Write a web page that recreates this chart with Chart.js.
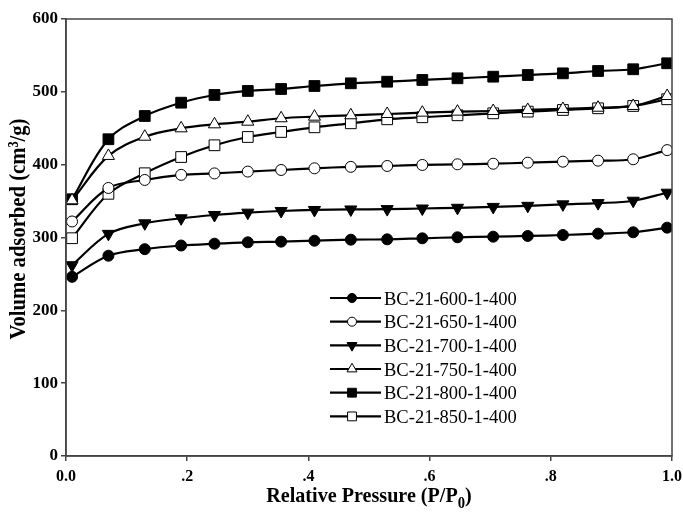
<!DOCTYPE html>
<html>
<head>
<meta charset="utf-8">
<script src="https://cdn.jsdelivr.net/npm/chart.js@4.4.1/dist/chart.umd.min.js"></script>
<style>
html,body{margin:0;padding:0;background:#fff;}
#wrap{width:683px;height:512px;position:relative;}
</style>
</head>
<body>
<div id="wrap"><canvas id="c" width="683" height="512"></canvas></div>
<script>
const pressure = [0.01, 0.07, 0.13, 0.19, 0.245, 0.30, 0.355, 0.41, 0.47, 0.53, 0.588, 0.646, 0.705, 0.762, 0.82, 0.878, 0.936, 0.992];
const bc600 = [246, 275, 284, 289, 291.5, 293.4, 294.3, 295.6, 297, 297.5, 298.9, 300.3, 301.1, 302.1, 303.4, 305.3, 307.2, 313.5];
const bc650 = [322, 368, 379, 386, 388, 390.5, 392.7, 395, 397, 398.2, 399.6, 400.5, 401.3, 402.7, 404.1, 405.5, 407.4, 420];
const bc700 = [262, 305, 319.5, 326.4, 330.9, 334.1, 336.4, 337.8, 338.5, 339, 339.8, 340.8, 342, 343.5, 345.5, 347.2, 350.5, 361.5];
const bc750 = [351, 412, 438.4, 449.9, 455.4, 459, 463.7, 465.9, 467.8, 469.6, 471.4, 472.8, 473.7, 475.1, 476.5, 478.2, 480.6, 494.3];
const bc800 = [352.5, 434.9, 466.8, 485.1, 495.7, 501.2, 503.9, 508, 511.7, 513.9, 516.3, 518.6, 520.8, 523.1, 525.4, 528.6, 531, 539.2];
const bc850 = [299, 360, 388.2, 410.5, 426.6, 438, 444.9, 451.3, 456.8, 462.3, 465.1, 467.8, 470.5, 472.8, 475.1, 477.4, 480.6, 489.8];
const seriesNames = ['BC-21-600-1-400','BC-21-650-1-400','BC-21-700-1-400','BC-21-750-1-400','BC-21-800-1-400','BC-21-850-1-400'];
const xTickLabels = ['0.0', '.2', '.4', '.6', '.8', '1.0'];
const yTickValues = [0, 100, 200, 300, 400, 500, 600];

const seriesValues = [bc600, bc650, bc700, bc750, bc800, bc850];
const styles = [
  {pointStyle:'circle', radius:5.5, rotation:0, fill:'#000'},
  {pointStyle:'circle', radius:5.5, rotation:0, fill:'#fff'},
  {pointStyle:'triangle', radius:7, rotation:180, fill:'#000'},
  {pointStyle:'triangle', radius:7, rotation:0, fill:'#fff'},
  {pointStyle:'rect', radius:7.6, rotation:0, fill:'#000'},
  {pointStyle:'rect', radius:7.6, rotation:0, fill:'#fff'}
];
const SERIF = '"Liberation Serif", "Times New Roman", serif';

const datasets = seriesValues.map((vals, i) => ({
  label: seriesNames[i],
  data: vals.map((v, j) => ({x: pressure[j], y: v})),
  borderColor: '#000',
  borderWidth: 2.2,
  tension: 0.35,
  pointStyle: styles[i].pointStyle,
  pointRadius: styles[i].radius,
  pointRotation: styles[i].rotation,
  pointBackgroundColor: styles[i].fill,
  pointBorderColor: '#000',
  pointBorderWidth: 1,
  fill: false
}));

function scaledText(ctx, text, x, y, sx) {
  ctx.save();
  ctx.translate(x, y);
  ctx.scale(sx, 1);
  ctx.fillText(text, 0, 0);
  ctx.restore();
}

const decor = {
  id: 'decor',
  afterDraw(chart) {
    const ctx = chart.ctx;
    const a = chart.chartArea;
    ctx.save();
    ctx.strokeStyle = '#444';
    ctx.lineWidth = 1.5;
    ctx.strokeRect(a.left, a.top, a.right - a.left, a.bottom - a.top);
    ctx.fillStyle = '#000';
    // y title
    ctx.save();
    ctx.translate(25, 229);
    ctx.rotate(-Math.PI / 2);
    ctx.font = 'bold 24px ' + SERIF;
    ctx.textAlign = 'center';
    ctx.textBaseline = 'alphabetic';
    scaledText(ctx, 'Volume adsorbed (cm\u00B3/g)', 0, 0, 0.86);
    ctx.restore();
    // x title with subscript
    const sxT = 0.915;
    const main = 'Relative Pressure (P/P';
    const sub = '0';
    const close = ')';
    ctx.font = 'bold 22px ' + SERIF;
    const w1 = ctx.measureText(main).width * sxT;
    const w3 = ctx.measureText(close).width * sxT;
    ctx.font = 'bold 16px ' + SERIF;
    const w2 = ctx.measureText(sub).width * sxT;
    const total = w1 + w2 + w3;
    const x0 = (a.left + a.right) / 2 - total / 2;
    const yb = 502;
    ctx.textAlign = 'left';
    ctx.textBaseline = 'alphabetic';
    ctx.font = 'bold 22px ' + SERIF;
    scaledText(ctx, main, x0, yb, sxT);
    ctx.font = 'bold 16px ' + SERIF;
    scaledText(ctx, sub, x0 + w1, yb + 6, sxT);
    ctx.font = 'bold 22px ' + SERIF;
    scaledText(ctx, close, x0 + w1 + w2, yb, sxT);
    // legend
    const lx1 = 330, lx2 = 381, mx = 352, tx = 384;
    const rowY = [298, 321.7, 345.4, 369, 392.7, 416.4];
    ctx.font = '19.5px ' + SERIF;
    for (let i = 0; i < seriesNames.length; i++) {
      const y = rowY[i];
      ctx.strokeStyle = '#000';
      ctx.lineWidth = 2.2;
      ctx.beginPath();
      ctx.moveTo(lx1, y);
      ctx.lineTo(lx2, y);
      ctx.stroke();
      ctx.fillStyle = styles[i].fill;
      ctx.strokeStyle = '#000';
      ctx.lineWidth = 1;
      Chart.helpers.drawPoint(ctx, {
        pointStyle: styles[i].pointStyle,
        radius: styles[i].radius * 0.82,
        rotation: styles[i].rotation,
        borderWidth: 1
      }, mx, y);
      ctx.fillStyle = '#000';
      ctx.textBaseline = 'alphabetic';
      scaledText(ctx, seriesNames[i], tx, y + 6.6, 0.95);
    }
    ctx.restore();
  }
};

new Chart(document.getElementById('c'), {
  type: 'scatter',
  data: { datasets },
  options: {
    responsive: false,
    animation: false,
    showLine: true,
    layout: { autoPadding: false, padding: { top: 19, right: 11, left: 0, bottom: 0 } },
    plugins: { legend: { display: false }, tooltip: { enabled: false } },
    scales: {
      x: {
        type: 'linear', min: 0, max: 1,
        afterFit(s) { s.height = 56; s.paddingLeft = 0; s.paddingRight = 0; },
        afterBuildTicks(s) { s.ticks = xTickLabels.map((_, i) => ({ value: i * 0.2 })); },
        ticks: {
          callback: (v, i) => xTickLabels[i],
          font: { family: SERIF, size: 16, weight: 'bold' },
          color: '#000', padding: 6, maxRotation: 0, autoSkip: false
        },
        grid: { drawOnChartArea: false, drawTicks: true, tickLength: 5, color: '#444', lineWidth: 1.5 },
        border: { display: true, color: '#444', width: 1.5 }
      },
      y: {
        type: 'linear', min: 0, max: 600,
        afterFit(s) { s.width = 66; s.paddingTop = 0; s.paddingBottom = 0; },
        afterBuildTicks(s) { s.ticks = yTickValues.map(v => ({ value: v })); },
        ticks: {
          callback: v => String(v),
          font: { family: SERIF, size: 17, weight: 'bold' },
          color: '#000', padding: 3, autoSkip: false
        },
        grid: { drawOnChartArea: false, drawTicks: true, tickLength: 5, color: '#444', lineWidth: 1.5 },
        border: { display: true, color: '#444', width: 1.5 }
      }
    }
  },
  plugins: [decor]
});
</script>
</body>
</html>
